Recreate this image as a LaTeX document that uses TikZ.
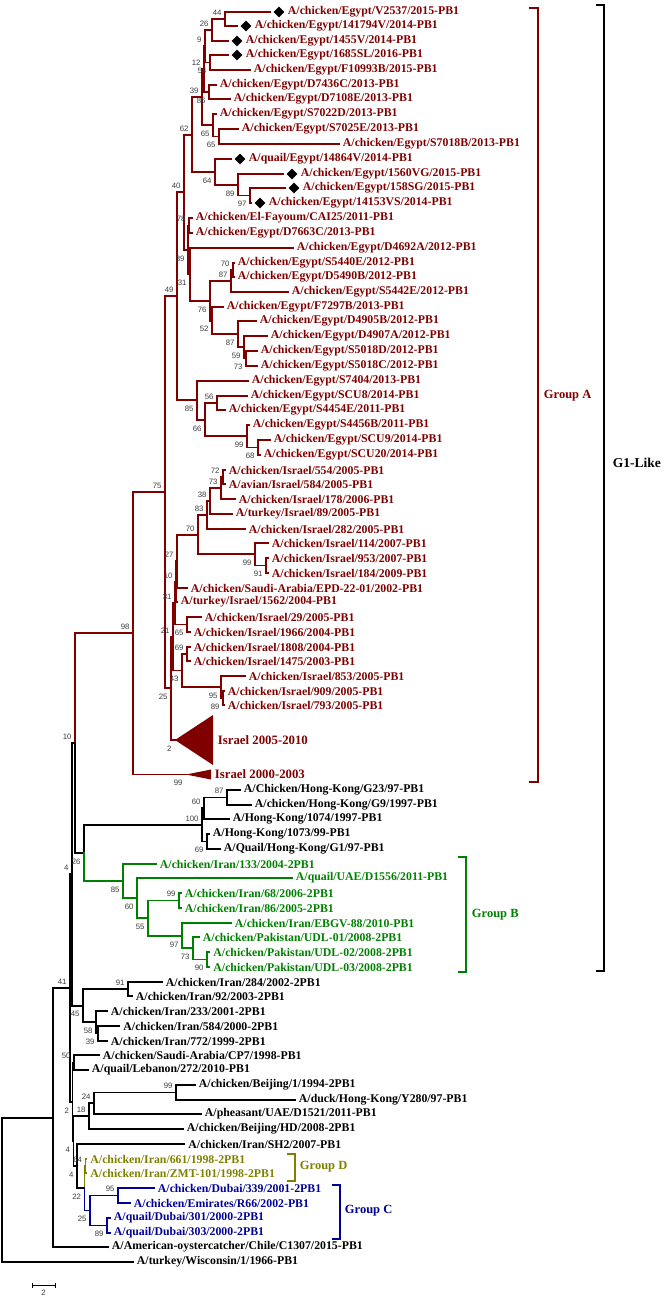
\documentclass[tikz,border=0pt]{standalone}
\usepackage{fontspec}
\setmainfont{Liberation Serif}
\newfontfamily\bsfont{Liberation Sans}
\usetikzlibrary{shapes.geometric}
\definecolor{gA}{RGB}{128,0,0}
\definecolor{gB}{RGB}{0,128,0}
\definecolor{gD}{RGB}{128,128,0}
\definecolor{gC}{RGB}{0,0,150}
\definecolor{bsc}{RGB}{60,60,60}
\newcommand{\tEdge}[2]{\draw (#1) |- (#2);}
\newcommand{\tLeaf}[5]{\coordinate (#1) at (#3,#4);\draw (#2) |- (#1);\node[leaf] (#1t) at ([xshift=3pt]#1) {#5};}
\newcommand{\tDLeaf}[5]{\coordinate (#1) at (#3,#4);\draw (#2) |- (#1);\node[dmd] (#1d) at ([xshift=9pt]#1) {};\node[leaf] (#1t) at ([xshift=17pt]#1) {#5};}
\newcommand{\tU}[2]{\node[bsu] (b#1) at (#1) {#2};}
\newcommand{\tL}[2]{\node[bsl] (b#1) at (#1) {#2};}
\begin{document}
\begin{tikzpicture}[x=1pt,y=-1pt,line width=1.9pt,line cap=rect,
  leaf/.style={anchor=west,inner sep=0pt,font=\fontsize{11.8}{12}\selectfont\bfseries},
  dmd/.style={diamond,fill=black,draw=none,inner sep=0pt,minimum width=11.5pt,minimum height=11.5pt},
  bs/.style={inner sep=0pt,text=bsc,font=\bsfont\fontsize{7.8}{8}\selectfont},
  bsu/.style={bs,anchor=south east,xshift=-2.5pt,yshift=2.5pt},
  bsl/.style={bs,anchor=north east,xshift=-2.5pt,yshift=-5pt},
  grp/.style={anchor=west,inner sep=0pt,font=\fontsize{12.5}{13}\selectfont\bfseries}]
\useasboundingbox (0,0) rectangle (666,1298);
% ---------- internal nodes ----------
\coordinate (n44) at (225,19);
\coordinate (n26) at (212,30);
\coordinate (n54) at (210,62.5);
\coordinate (n9) at (205,46.25);
\coordinate (n86) at (209,92);
\coordinate (n12) at (204,69.1);
\coordinate (n65a) at (219,136.5);
\coordinate (n65b) at (213,125.25);
\coordinate (n39a) at (202,97.2);
\coordinate (n97a) at (250,195.5);
\coordinate (n89a) at (238,184.75);
\coordinate (n64) at (215,171.9);
\coordinate (n62) at (192,134.55);
\coordinate (n78) at (189,225.5);
\coordinate (n70a) at (233,270);
\coordinate (n87a) at (231,281);
\coordinate (n73a) at (246,358.5);
\coordinate (n59) at (244,347.25);
\coordinate (n87b) at (238,334.1);
\coordinate (n52) at (212,320.55);
\coordinate (n76) at (210,300.8);
\coordinate (n31e) at (190,274.4);
\coordinate (n39b) at (188,249.9);
\coordinate (n40) at (184,192.2);
\coordinate (n68) at (258,447.5);
\coordinate (n99a) at (247,436.25);
\coordinate (n56) at (217,403);
\coordinate (n66) at (205,419.6);
\coordinate (n85) at (197,400.3);
\coordinate (n49) at (177,296.3);
\coordinate (n72) at (223,477);
\coordinate (n73b) at (221,488);
\coordinate (n38) at (210,501);
\coordinate (n83) at (207,515);
\coordinate (n91) at (266,565.5);
\coordinate (n99b) at (255,554.25);
\coordinate (n70b) at (198,534.6);
\coordinate (n27) at (177,561.3);
\coordinate (n10) at (176,581.7);
\coordinate (n65c) at (187,624.5);
\coordinate (n31i) at (175,603.1);
\coordinate (n69a) at (187,654);
\coordinate (n89b) at (223,698);
\coordinate (n95a) at (221,687);
\coordinate (n43) at (182,670.5);
\coordinate (n21) at (173,636.8);
\coordinate (tri1) at (175,740);
\coordinate (n25a) at (171,688.4);
\coordinate (n75) at (165,492.3);
\coordinate (tri2) at (186,774.5);
\coordinate (n98) at (133,633.4);
\coordinate (n87hk) at (227,797.5);
\coordinate (n60hk) at (204,808.25);
\coordinate (n69hk) at (207,841.5);
\coordinate (n100) at (202,824.9);
\coordinate (n90) at (207,959.5);
\coordinate (n73g) at (193,948.25);
\coordinate (n97g) at (182,935.6);
\coordinate (n99g) at (179,900.5);
\coordinate (n55) at (148,918.1);
\coordinate (n60g) at (137,898);
\coordinate (n85g) at (123,881);
\coordinate (n26b) at (84,853);
\coordinate (n10top) at (75,743.2);
\coordinate (n91b) at (128,989);
\coordinate (n39c) at (98,1033.5);
\coordinate (n58) at (96,1022.25);
\coordinate (n45) at (83,1005.6);
\coordinate (n4) at (72,874.4);
\coordinate (n50) at (74,1062.5);
\coordinate (n99c) at (176,1092.5);
\coordinate (n24) at (94,1103.25);
\coordinate (n18) at (89,1116.1);
\coordinate (n64d) at (85.5,1166);
\coordinate (n95c) at (118,1195.5);
\coordinate (n89c) at (107,1225.5);
\coordinate (n25c) at (90,1210.5);
\coordinate (n22) at (84.5,1188.25);
\coordinate (n4b) at (77,1166.1);
\coordinate (n4c) at (73.5,1141.1);
\coordinate (n2) at (72.5,1101.8);
\coordinate (nP41) at (70,988.1);
\coordinate (n53) at (53,1117.6);
\coordinate (root) at (2,1189.8);
% ---------- Group A (dark red) ----------
\begin{scope}[color=gA]
\tEdge{n26}{n44}\tEdge{n9}{n26}\tEdge{n9}{n54}\tEdge{n12}{n9}\tEdge{n12}{n86}
\tEdge{n39a}{n12}\tEdge{n65b}{n65a}\tEdge{n39a}{n65b}\tEdge{n62}{n39a}
\tEdge{n89a}{n97a}\tEdge{n64}{n89a}\tEdge{n62}{n64}\tEdge{n40}{n62}
\tEdge{n39b}{n78}\tEdge{n87a}{n70a}\tEdge{n76}{n87a}\tEdge{n59}{n73a}
\tEdge{n87b}{n59}\tEdge{n52}{n87b}\tEdge{n76}{n52}\tEdge{n31e}{n76}
\tEdge{n39b}{n31e}\tEdge{n40}{n39b}\tEdge{n49}{n40}\tEdge{n99a}{n68}
\tEdge{n66}{n99a}\tEdge{n66}{n56}\tEdge{n85}{n66}\tEdge{n49}{n85}\tEdge{n75}{n49}
\tEdge{n73b}{n72}\tEdge{n38}{n73b}\tEdge{n83}{n38}\tEdge{n70b}{n83}
\tEdge{n99b}{n91}\tEdge{n70b}{n99b}\tEdge{n27}{n70b}\tEdge{n10}{n27}
\tEdge{n31i}{n10}\tEdge{n31i}{n65c}\tEdge{n21}{n31i}\tEdge{n43}{n69a}
\tEdge{n95a}{n89b}\tEdge{n43}{n95a}\tEdge{n21}{n43}\tEdge{n25a}{n21}
\tEdge{n25a}{tri1}\tEdge{n75}{n25a}\tEdge{n98}{n75}\tEdge{n98}{tri2}\tEdge{n10top}{n98}
\tDLeaf{a1}{n44}{270}{12}{A/chicken/Egypt/V2537/2015-PB1}
\tDLeaf{a2}{n44}{237}{26}{A/chicken/Egypt/141794V/2014-PB1}
\tDLeaf{a3}{n26}{228}{41}{A/chicken/Egypt/1455V/2014-PB1}
\tDLeaf{a4}{n54}{228}{55}{A/chicken/Egypt/1685SL/2016-PB1}
\tLeaf{a5}{n54}{250}{70}{A/chicken/Egypt/F10993B/2015-PB1}
\tLeaf{a6}{n86}{216}{85}{A/chicken/Egypt/D7436C/2013-PB1}
\tLeaf{a7}{n86}{230}{99}{A/chicken/Egypt/D7108E/2013-PB1}
\tLeaf{a8}{n65b}{216}{114}{A/chicken/Egypt/S7022D/2013-PB1}
\tLeaf{a9}{n65a}{238}{129}{A/chicken/Egypt/S7025E/2013-PB1}
\tLeaf{a10}{n65a}{339}{144}{A/chicken/Egypt/S7018B/2013-PB1}
\tDLeaf{a11}{n64}{231}{159}{A/quail/Egypt/14864V/2014-PB1}
\tDLeaf{a12}{n89a}{283}{174}{A/chicken/Egypt/1560VG/2015-PB1}
\tDLeaf{a13}{n97a}{285}{188}{A/chicken/Egypt/158SG/2015-PB1}
\tDLeaf{a14}{n97a}{251}{203}{A/chicken/Egypt/14153VS/2014-PB1}
\tLeaf{a15}{n78}{192}{218}{A/chicken/El-Fayoum/CAI25/2011-PB1}
\tLeaf{a16}{n78}{192}{233}{A/chicken/Egypt/D7663C/2013-PB1}
\tLeaf{a17}{n31e}{293}{248}{A/chicken/Egypt/D4692A/2012-PB1}
\tLeaf{a18}{n70a}{234}{263}{A/chicken/Egypt/S5440E/2012-PB1}
\tLeaf{a19}{n70a}{234}{277}{A/chicken/Egypt/D5490B/2012-PB1}
\tLeaf{a20}{n87a}{288}{292}{A/chicken/Egypt/S5442E/2012-PB1}
\tLeaf{a21}{n52}{223}{307}{A/chicken/Egypt/F7297B/2013-PB1}
\tLeaf{a22}{n87b}{256}{321}{A/chicken/Egypt/D4905B/2012-PB1}
\tLeaf{a23}{n59}{267}{336}{A/chicken/Egypt/D4907A/2012-PB1}
\tLeaf{a24}{n73a}{257}{351}{A/chicken/Egypt/S5018D/2012-PB1}
\tLeaf{a25}{n73a}{257}{366}{A/chicken/Egypt/S5018C/2012-PB1}
\tLeaf{a26}{n85}{248}{381}{A/chicken/Egypt/S7404/2013-PB1}
\tLeaf{a27}{n56}{247}{396}{A/chicken/Egypt/SCU8/2014-PB1}
\tLeaf{a28}{n56}{225}{410}{A/chicken/Egypt/S4454E/2011-PB1}
\tLeaf{a29}{n99a}{249}{425}{A/chicken/Egypt/S4456B/2011-PB1}
\tLeaf{a30}{n68}{270}{440}{A/chicken/Egypt/SCU9/2014-PB1}
\tLeaf{a31}{n68}{260}{455}{A/chicken/Egypt/SCU20/2014-PB1}
\tLeaf{a32}{n72}{225}{470}{A/chicken/Israel/554/2005-PB1}
\tLeaf{a33}{n72}{225}{484}{A/avian/Israel/584/2005-PB1}
\tLeaf{a34}{n73b}{235}{499}{A/chicken/Israel/178/2006-PB1}
\tLeaf{a35}{n38}{232}{514}{A/turkey/Israel/89/2005-PB1}
\tLeaf{a36}{n83}{245}{529}{A/chicken/Israel/282/2005-PB1}
\tLeaf{a37}{n99b}{268}{543}{A/chicken/Israel/114/2007-PB1}
\tLeaf{a38}{n91}{268}{558}{A/chicken/Israel/953/2007-PB1}
\tLeaf{a39}{n91}{268}{573}{A/chicken/Israel/184/2009-PB1}
\tLeaf{a40}{n27}{187}{588}{A/chicken/Saudi-Arabia/EPD-22-01/2002-PB1}
\tLeaf{a41}{n10}{177}{602}{A/turkey/Israel/1562/2004-PB1}
\tLeaf{a42}{n65c}{201}{617}{A/chicken/Israel/29/2005-PB1}
\tLeaf{a43}{n65c}{190}{632}{A/chicken/Israel/1966/2004-PB1}
\tLeaf{a44}{n69a}{190}{647}{A/chicken/Israel/1808/2004-PB1}
\tLeaf{a45}{n69a}{190}{661}{A/chicken/Israel/1475/2003-PB1}
\tLeaf{a46}{n95a}{245}{676}{A/chicken/Israel/853/2005-PB1}
\tLeaf{a47}{n89b}{224}{691}{A/chicken/Israel/909/2005-PB1}
\tLeaf{a48}{n89b}{224}{705}{A/chicken/Israel/793/2005-PB1}
\fill (tri1) -- ++(38,-25) -- ++(0,50) -- cycle;
\fill (tri2) -- ++(25,-5) -- ++(0,10) -- cycle;
\node[anchor=west,inner sep=0pt,font=\fontsize{12.8}{13}\selectfont\bfseries] (tri1t) at (217,740) {Israel 2005-2010};
\node[anchor=west,inner sep=0pt,font=\fontsize{12.8}{13}\selectfont\bfseries] (tri2t) at (214,774.5) {Israel 2000-2003};
\draw (530,8) -- (538,8) -- (538,782) -- (530,782);
\node[grp] (grpA) at (543,396) {Group A};
\end{scope}
% ---------- black backbone ----------
\begin{scope}[color=black]
\tEdge{n4}{n10top}\tEdge{n10top}{n26b}\tEdge{n26b}{n100}\tEdge{n100}{n60hk}
\tEdge{n60hk}{n87hk}\tEdge{n100}{n69hk}\tEdge{nP41}{n4}\tEdge{n4}{n45}
\tEdge{n45}{n91b}\tEdge{n45}{n58}\tEdge{n58}{n39c}\tEdge{nP41}{n2}\tEdge{n2}{n50}
\tEdge{n2}{n4c}\tEdge{n4c}{n18}\tEdge{n18}{n24}\tEdge{n24}{n99c}\tEdge{n4c}{n4b}
\tEdge{n4b}{n22}\tEdge{n53}{nP41}\tEdge{root}{n53}
\tLeaf{h1}{n87hk}{240}{790}{A/Chicken/Hong-Kong/G23/97-PB1}
\tLeaf{h2}{n87hk}{251}{805}{A/chicken/Hong-Kong/G9/1997-PB1}
\tLeaf{h3}{n60hk}{229}{819}{A/Hong-Kong/1074/1997-PB1}
\tLeaf{h4}{n69hk}{209}{834}{A/Hong-Kong/1073/99-PB1}
\tLeaf{h5}{n69hk}{220}{849}{A/Quail/Hong-Kong/G1/97-PB1}
\tLeaf{k1}{n91b}{162}{982}{A/chicken/Iran/284/2002-2PB1}
\tLeaf{k2}{n91b}{132}{996}{A/chicken/Iran/92/2003-2PB1}
\tLeaf{k3}{n58}{107}{1011}{A/chicken/Iran/233/2001-2PB1}
\tLeaf{k4}{n39c}{119.5}{1026}{A/chicken/Iran/584/2000-2PB1}
\tLeaf{k5}{n39c}{107}{1041}{A/chicken/Iran/772/1999-2PB1}
\tLeaf{k6}{n50}{99}{1055}{A/chicken/Saudi-Arabia/CP7/1998-PB1}
\tLeaf{k7}{n50}{88}{1070}{A/quail/Lebanon/272/2010-PB1}
\tLeaf{k8}{n99c}{195}{1085}{A/chicken/Beijing/1/1994-2PB1}
\tLeaf{k9}{n99c}{295}{1100}{A/duck/Hong-Kong/Y280/97-PB1}
\tLeaf{k10}{n24}{201}{1114}{A/pheasant/UAE/D1521/2011-PB1}
\tLeaf{k11}{n18}{183}{1129}{A/chicken/Beijing/HD/2008-2PB1}
\tLeaf{k12}{n4b}{184.5}{1144}{A/chicken/Iran/SH2/2007-PB1}
\tLeaf{k13}{n53}{108}{1247}{A/American-oystercatcher/Chile/C1307/2015-PB1}
\tLeaf{k14}{root}{133}{1262}{A/turkey/Wisconsin/1/1966-PB1}
\draw (597,5) -- (604,5) -- (604,971) -- (597,971);
\node[anchor=west,inner sep=0pt,font=\fontsize{13.5}{14}\selectfont\bfseries] (g1t) at (612,463) {G1-Like};
\coordinate (sb1) at (32,1285);
\coordinate (sb2) at (55,1285);
\draw[line width=0.8pt,line cap=butt] (sb1) -- (sb2);
\draw[line width=0.8pt,line cap=butt] ([yshift=2.5pt]sb1) -- ([yshift=-2.5pt]sb1);
\draw[line width=0.8pt,line cap=butt] ([yshift=2.5pt]sb2) -- ([yshift=-2.5pt]sb2);
\node[bs,anchor=north] (sbt) at (43.5,1289) {2};
\end{scope}
% ---------- Group B (green) ----------
\begin{scope}[color=gB]
\tEdge{n26b}{n85g}\tEdge{n85g}{n60g}\tEdge{n60g}{n55}\tEdge{n55}{n99g}
\tEdge{n55}{n97g}\tEdge{n97g}{n73g}\tEdge{n73g}{n90}
\tLeaf{g1}{n85g}{156}{864}{A/chicken/Iran/133/2004-2PB1}
\tLeaf{g2}{n60g}{292}{878}{A/quail/UAE/D1556/2011-PB1}
\tLeaf{g3}{n99g}{181}{893}{A/chicken/Iran/68/2006-2PB1}
\tLeaf{g4}{n99g}{181}{908}{A/chicken/Iran/86/2005-2PB1}
\tLeaf{g5}{n97g}{231}{923}{A/chicken/Iran/EBGV-88/2010-PB1}
\tLeaf{g6}{n73g}{199}{937}{A/chicken/Pakistan/UDL-01/2008-2PB1}
\tLeaf{g7}{n90}{209.5}{952}{A/chicken/Pakistan/UDL-02/2008-2PB1}
\tLeaf{g8}{n90}{209.5}{967}{A/chicken/Pakistan/UDL-03/2008-2PB1}
\draw (459,857) -- (466,857) -- (466,972) -- (459,972);
\node[grp] (grpB) at (471,915) {Group B};
\end{scope}
% ---------- Group D (olive) ----------
\begin{scope}[color=gD]
\tEdge{n22}{n64d}
\tLeaf{d1}{n64d}{86.5}{1159}{A/chicken/Iran/661/1998-2PB1}
\tLeaf{d2}{n64d}{86.5}{1173}{A/chicken/Iran/ZMT-101/1998-2PB1}
\draw (288,1154) -- (295,1154) -- (295,1181) -- (288,1181);
\node[grp] (grpD) at (299,1167) {Group D};
\end{scope}
% ---------- Group C (blue) ----------
\begin{scope}[color=gC]
\tEdge{n22}{n25c}\tEdge{n25c}{n95c}\tEdge{n25c}{n89c}
\tLeaf{c1}{n95c}{154}{1188}{A/chicken/Dubai/339/2001-2PB1}
\tLeaf{c2}{n95c}{130}{1203}{A/chicken/Emirates/R66/2002-PB1}
\tLeaf{c3}{n89c}{110}{1218}{A/quail/Dubai/301/2000-2PB1}
\tLeaf{c4}{n89c}{110}{1233}{A/quail/Dubai/303/2000-2PB1}
\draw (333,1185) -- (340,1185) -- (340,1239) -- (333,1239);
\node[grp] (grpC) at (344,1211) {Group C};
\end{scope}
% ---------- bootstrap values ----------
\tU{n44}{44}\tU{n26}{26}\tU{n9}{9}\tL{n54}{54}\tU{n12}{12}\tL{n86}{86}
\tU{n39a}{39}\tL{n65b}{65}\tL{n65a}{65}\tU{n62}{62}\tL{n64}{64}\tL{n89a}{89}
\tL{n97a}{97}\tU{n40}{40}\tU{n78}{78}\tL{n39b}{39}\tL{n31e}{31}\tU{n70a}{70}
\tU{n87a}{87}\tL{n76}{76}\tL{n52}{52}\tL{n87b}{87}\tL{n59}{59}\tL{n73a}{73}
\tU{n49}{49}\tL{n85}{85}\tL{n66}{66}\tU{n56}{56}\tL{n99a}{99}\tL{n68}{68}
\tU{n75}{75}\tU{n72}{72}\tU{n73b}{73}\tU{n38}{38}\tU{n83}{83}\tU{n70b}{70}
\tL{n99b}{99}\tL{n91}{91}\tU{n27}{27}\tU{n10}{10}\tU{n31i}{31}\tL{n65c}{65}
\tU{n69a}{69}\tL{n43}{43}\tL{n95a}{95}\tL{n89b}{89}\tU{n21}{21}\tL{n25a}{25}
\tL{tri1}{2}\tL{tri2}{99}\tU{n98}{98}\tU{n10top}{10}\tL{n26b}{26}
\tU{n100}{100}\tU{n60hk}{60}\tU{n87hk}{87}\tL{n69hk}{69}
\tL{n85g}{85}\tL{n60g}{60}\tU{n99g}{99}\tL{n55}{55}\tL{n97g}{97}\tL{n73g}{73}\tL{n90}{90}
\tU{n4}{4}\tL{n45}{45}\tU{n91b}{91}\tL{n58}{58}\tL{n39c}{39}\tU{nP41}{41}
\tU{n50}{50}\tL{n2}{2}\tU{n99c}{99}\tU{n24}{24}\tU{n18}{18}\tL{n4c}{4}\tL{n4b}{4}
\tU{n64d}{64}\tL{n22}{22}\tU{n95c}{95}\tL{n25c}{25}\tL{n89c}{89}
\end{tikzpicture}
\end{document}
